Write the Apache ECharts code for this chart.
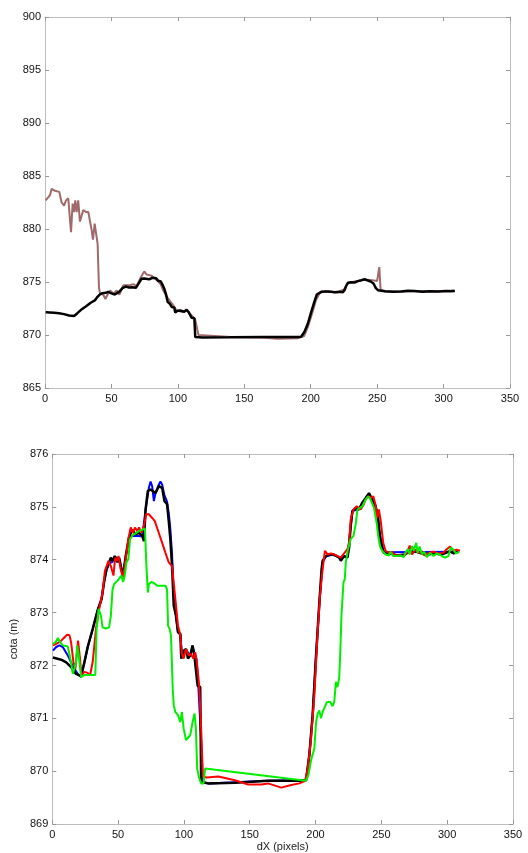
<!DOCTYPE html>
<html>
<head>
<meta charset="UTF-8">
<title>cota perfil</title>
<script src="https://cdn.jsdelivr.net/npm/echarts@6/dist/echarts.min.js"></script>
<style>
  body { margin: 0; padding: 0; background: #fff; overflow: hidden; }
  #chart { width: 528px; height: 853px; }
</style>
</head>
<body>
<div id="chart"></div>
<script>
// tick labels
const xTicks = [0, 50, 100, 150, 200, 250, 300, 350];
const topRange = [865, 900];
const bottomRange = [869, 876];

// top plot, brown line (raw profile)
const brownLine = [[0.5,882.7],[2.5,883.0],[3.8,883.2],[5,883.8],[6.3,883.9],[7.5,883.6],[8.8,883.5],[10.8,883.5],
  [12.5,882.5],[14.3,882.2],[15.8,882.7],[17.5,882.9],[18.8,882.8],[19.6,879.7],[20.8,882.4],[21.8,881.6],
  [22.8,882.7],[23.8,881.6],[25,882.7],[26.3,880.7],[27.8,880.6],[28.8,881.8],[30.8,881.6],[32.6,881.6],
  [33.9,881.5],[35.1,879.9],[36.1,879.0],[37.4,880.5],[38.9,880.5],[39.6,878.6],[40.6,874.5],[41.4,873.9],
  [43.9,873.8],[45.5,873.4],[47,873.8],[49,874.2],[51.4,873.9],[54,874.2],[56,873.8],[59,874.7],[64,874.7],
  [66.5,874.8],[69,874.6],[71.5,875.3],[74.7,876.0],[76.5,875.7],[78,875.8],[80,875.6],[84,875.2],[87,874.8],
  [89,874.2],[92.8,873.4],[96.6,872.8],[99,872.3],[103,872.2],[107,872.3],[110,871.9],[113,871.5],[115.5,870.0],
  [117,869.85],[140,869.82],[165,869.75],[175,869.65],[190,869.7],[195,869.9],[198,870.8],[201,872.0],
  [204,873.3],[207,874.0],[212,874.1],[220,874.0],[225,874.3],[228,874.9],[235,875.1],[240,875.2],[245,875.2],
  [250,875.1],[251.6,876.4],[252.6,874.3],[256,874.1],[270,874.1],[280,874.15],[295,874.1],[308,874.2]];

// black line (shared by both plots)
const blackLine = [[0.5,872.15],[6.8,872.11],[10.6,872.06],[14.3,871.97],[18.1,871.84],[21.9,871.80],[24.4,872.06],
  [26.9,872.35],[30.7,872.69],[34.4,873.04],[37.5,873.26],[39.5,873.60],[41.2,873.82],[43.2,873.95],[44.5,874.04],
  [45.8,873.98],[47.5,874.07],[49.5,873.95],[50.8,874.04],[52.5,873.82],[53.8,873.70],[55.8,874.07],[58.3,874.42],
  [60.8,874.57],[63.3,874.48],[65.9,874.51],[68.4,874.45],[69.6,874.35],[70.9,874.95],[72.6,875.30],[74.7,875.33],
  [78.4,875.26],[80.9,875.39],[83.5,875.36],[85.2,875.11],[87.2,875.05],[88.5,874.73],[89.7,874.39],[91.0,873.88],
  [92.3,873.13],[94.0,872.94],[95.5,872.63],[97.3,872.60],[98.0,872.13],[99.8,872.28],[101.6,872.31],[103.1,872.13],
  [104.8,872.19],[106.6,872.38],[108.1,872.16],[109.6,872.13],[110.4,871.62],[112.4,871.59],[113.1,869.80],
  [114.1,869.77],[118.7,869.77],[138.8,869.78],[163.9,869.82],[190.3,869.82],[192.8,869.83],[195.3,870.31],
  [197.8,871.06],[200.4,872.19],[202.9,873.19],[204.6,873.82],[205.4,873.98],[207.9,874.07],[210.4,874.10],
  [212.9,874.10],[215.4,874.08],[218.0,874.04],[219.2,873.98],[221.7,874.07],[224.2,874.04],[225.5,874.23],
  [226.7,874.64],[228.0,874.92],[230.5,874.98],[233.0,874.95],[235.5,875.08],[238.1,875.17],[240.6,875.26],
  [243.1,875.14],[245.6,875.01],[247.4,874.83],[248.9,874.45],[250.6,874.23],[251.9,874.13],[256,874.12],
  [262,874.08],[268,874.10],[273,874.18],[278,874.14],[284,874.09],[290,874.12],[296,874.10],[302,874.16],
  [305,874.12],[308.5,874.15]];

// bottom plot, blue line
const blueLine = [[0.5,872.28],[3.0,872.35],[5.5,872.38],[8.0,872.35],[11.8,872.19],[15.6,871.99],[19.4,871.84],
  [21.9,871.78],[24.4,872.05],[26.9,872.34],[30.7,872.68],[34.4,873.03],[37.5,873.26],[39.5,873.60],[41.2,873.80],
  [43.2,873.93],[45.8,873.96],[47.5,874.05],[50.8,874.02],[53.8,873.72],[55.8,874.05],[58.3,874.40],[60.8,874.45],
  [65.9,874.45],[68.4,874.44],[70.9,874.95],[73.4,875.36],[74.7,875.48],[75.9,875.39],[77.2,875.11],[78.4,875.26],
  [80.9,875.42],[82.2,875.48],[83.5,875.42],[85.2,875.22],[87.2,875.10],[88.5,874.88],[89.7,874.58],[91.0,874.10],
  [92.3,873.30],[94.0,872.94],[95.5,872.63],[97.3,872.58],[98.5,872.20],[101.6,872.30],[104.8,872.18],
  [106.6,872.35],[109.6,872.12],[111.0,871.60],[113.5,870.40],[114.3,869.78],[118.7,869.77],[163.9,869.82],
  [192.8,869.83],[195.3,870.30],[197.8,871.05],[200.4,872.18],[202.9,873.18],[205.4,873.96],[207.9,874.06],
  [212.9,874.10],[218.0,874.04],[221.7,874.07],[224.2,874.05],[226.7,874.62],[228.0,874.92],[233.0,874.96],
  [238.1,875.16],[240.6,875.24],[245.6,875.02],[248.9,874.46],[251.9,874.14],[308.5,874.15]];

// bottom plot, red line
const redLine = [[0.5,872.38],[3.0,872.41],[5.5,872.44],[8.0,872.50],[11.3,872.58],[13.1,872.57],[14.3,872.44],
  [16.1,872.06],[17.6,871.94],[19.6,872.47],[21.1,872.13],[22.1,871.81],[24.4,871.88],[26.9,871.86],[28.7,871.81],
  [30.7,872.06],[33.2,872.69],[35.7,873.07],[38.2,873.38],[40.0,873.79],[41.5,873.76],[42.7,873.98],[44.5,873.88],
  [46.5,873.70],[47.8,874.04],[49.0,873.98],[50.3,874.07],[52.0,873.82],[53.8,873.66],[55.8,874.01],[57.8,874.39],
  [59.6,874.61],[61.3,874.51],[62.8,874.61],[64.6,874.54],[65.9,874.61],[67.9,874.51],[69.6,874.64],[71.4,874.86],
  [73.4,874.86],[75.9,874.79],[77.9,874.73],[80.9,874.51],[83.5,874.32],[86.0,874.13],[88.5,873.95],[91.0,873.88],
  [93.5,873.26],[95.5,872.75],[97.3,872.57],[98.5,872.22],[99.8,872.13],[101.6,872.31],[103.6,872.19],
  [105.4,872.22],[107.1,872.13],[108.6,872.25],[109.9,872.06],[111.6,871.62],[113.1,870.81],[114.4,869.90],
  [117.4,869.88],[126.2,869.90],[138.8,869.83],[148.8,869.75],[158.9,869.75],[163.9,869.77],[174.0,869.69],
  [181.5,869.74],[187.8,869.77],[192.1,869.82],[194.1,870.05],[196.6,870.62],[199.1,871.44],[201.6,872.63],
  [203.4,873.32],[205.4,873.82],[207.1,874.17],[209.2,874.10],[211.7,874.12],[214.2,874.10],[216.7,874.07],
  [219.2,874.04],[221.7,874.12],[224.2,874.20],[225.5,874.32],[226.7,874.76],[228.8,874.95],[231.3,875.01],
  [234.3,874.95],[236.3,875.03],[238.1,875.14],[240.1,875.20],[242.3,875.17],[243.9,875.20],[245.6,875.04],
  [246.8,874.79],[248.1,874.95],[249.4,874.76],[251.4,874.32],[253.2,874.17],[255.7,874.13],[258.2,874.15],
  [260.7,874.08],[264.5,874.08],[267.0,874.07],[269.5,874.13],[271.5,874.27],[273.3,874.10],[275.8,874.19],
  [278.3,874.13],[280.8,874.16],[283.3,874.08],[285.8,874.13],[289.6,874.15],[293.4,874.12],[297.1,874.13],
  [299.6,874.20],[302.2,874.25],[304.7,874.17],[307.2,874.19],[309.7,874.17]];

// bottom plot, green line
const greenLine = [[0.5,872.41],[2.5,872.44],[4.3,872.52],[6.0,872.44],[8.0,872.38],[11.8,872.36],[13.1,872.35],
  [14.3,872.06],[15.6,871.84],[16.8,871.84],[18.1,872.06],[18.9,872.38],[20.1,872.19],[21.9,871.78],[24.4,871.82],
  [28.2,871.82],[32.7,871.82],[33.7,872.69],[35.2,873.07],[37.0,872.94],[38.2,872.72],[40.7,872.70],[43.2,872.72],
  [44.5,872.94],[45.8,873.44],[47.0,873.54],[48.3,873.56],[49.5,873.60],[50.8,873.63],[52.5,873.70],[53.8,873.58],
  [55.1,873.70],[56.3,873.95],[57.8,874.01],[59.1,874.39],[60.8,874.46],[63.3,874.50],[65.9,874.54],[68.4,874.57],
  [70.4,874.59],[71.4,873.95],[72.6,873.38],[73.4,873.54],[75.1,873.58],[77.2,873.56],[79.7,873.51],[83.5,873.51],
  [86.0,873.51],[87.2,873.44],[88.0,872.75],[89.2,872.69],[90.2,872.57],[91.5,871.56],[92.3,871.25],[93.5,871.12],
  [95.5,871.06],[97.3,870.93],[98.5,871.12],[99.8,870.81],[101.6,870.59],[103.1,870.56],[104.8,870.68],
  [106.6,870.93],[108.1,871.09],[109.1,870.81],[110.1,870.05],[111.6,869.87],[113.1,869.77],[114.9,869.77],
  [116.1,870.05],[192.8,869.82],[194.6,869.93],[196.6,870.21],[197.8,870.18],[199.1,870.43],[200.4,870.93],
  [201.6,871.09],[202.9,871.15],[204.1,871.00],[205.4,871.12],[207.1,871.22],[208.7,871.31],[211.2,871.31],
  [212.9,871.23],[214.2,871.31],[215.5,871.69],[216.7,871.59],[218.0,871.78],[218.7,872.19],[219.7,872.94],
  [221.2,873.57],[222.2,873.63],[223.0,873.95],[224.7,874.20],[226.7,874.39],[228.8,874.45],[230.5,874.67],
  [231.8,874.95],[233.8,874.98],[235.5,875.01],[238.1,875.14],[240.1,875.20],[241.8,875.14],[244.4,874.98],
  [246.4,874.70],[247.6,874.45],[248.9,874.26],[250.6,874.17],[253.2,874.10],[255.7,874.08],[257.0,874.15],
  [259.0,874.07],[262.0,874.07],[264.5,874.08],[267.0,874.05],[268.2,874.13],[270.0,874.20],[271.5,874.10],
  [273.3,874.26],[274.5,874.17],[276.5,874.32],[277.5,874.13],[279.0,874.25],[280.8,874.10],[282.5,874.15],
  [284.6,874.05],[287.1,874.13],[289.6,874.07],[292.1,874.12],[294.1,874.10],[295.9,874.07],[298.4,874.04],
  [300.9,874.07],[302.7,874.23],[304.7,874.19],[306.7,874.12],[309.2,874.15]];

const FONT = 'Liberation Sans';
const lineGrey = '#bdbdbd';

function xAx(grid, pos, showLabel, name) {
  return {
    gridIndex: grid, type: 'value', position: pos,
    min: xTicks[0], max: xTicks[xTicks.length - 1], interval: 50,
    name: name || '', nameLocation: 'middle', nameGap: 15,
    nameTextStyle: { color: '#222', fontSize: 11, fontFamily: FONT },
    axisLine: { show: true, onZero: false, lineStyle: { color: lineGrey, width: 1 } },
    axisTick: { show: true, inside: true, length: 4, lineStyle: { color: '#999' } },
    axisLabel: { show: showLabel, color: '#111', fontSize: 11, fontFamily: FONT, margin: 5 },
    splitLine: { show: false }
  };
}
function yAx(grid, pos, range, interval, showLabel, name) {
  return {
    gridIndex: grid, type: 'value', position: pos,
    min: range[0], max: range[1], interval: interval,
    name: name || '', nameLocation: 'middle', nameGap: 30,
    nameTextStyle: { color: '#222', fontSize: 11, fontFamily: FONT },
    axisLine: { show: true, onZero: false, lineStyle: { color: lineGrey, width: 1 } },
    axisTick: { show: true, inside: true, length: 4, lineStyle: { color: '#999' } },
    axisLabel: { show: showLabel, color: '#111', fontSize: 11, fontFamily: FONT, margin: 4 },
    splitLine: { show: false }
  };
}
function line(data, color, width, xi, yi) {
  return {
    type: 'line', data: data, xAxisIndex: xi, yAxisIndex: yi,
    showSymbol: false, symbol: 'none', animation: false,
    lineStyle: { color: color, width: width }, z: 2
  };
}

const chart = echarts.init(document.getElementById('chart'));
chart.setOption({
  backgroundColor: '#fff',
  animation: false,
  grid: [
    { left: 45, top: 17, width: 465, height: 371 },
    { left: 49, top: 454, width: 464, height: 372 }
  ],
  xAxis: [
    xAx(0, 'bottom', true), xAx(0, 'top', false),
    xAx(1, 'bottom', true, 'dX (pixels)'), xAx(1, 'top', false)
  ],
  yAxis: [
    yAx(0, 'left', topRange, 5, true), yAx(0, 'right', topRange, 5, false),
    yAx(1, 'left', bottomRange, 1, true, 'cota (m)'), yAx(1, 'right', bottomRange, 1, false)
  ],
  series: [
    line(brownLine, '#a0696a', 2, 0, 0),
    line(blackLine, '#000', 2.5, 0, 0),
    // bottom: blue drawn first so the black one covers it where they agree
    line(blueLine, '#0000ff', 2, 2, 2),
    line(blackLine, '#000', 2.5, 2, 2),
    line(redLine, '#ff0000', 2, 2, 2),
    line(greenLine, '#00ee00', 2, 2, 2)
  ]
});
</script>
</body>
</html>
